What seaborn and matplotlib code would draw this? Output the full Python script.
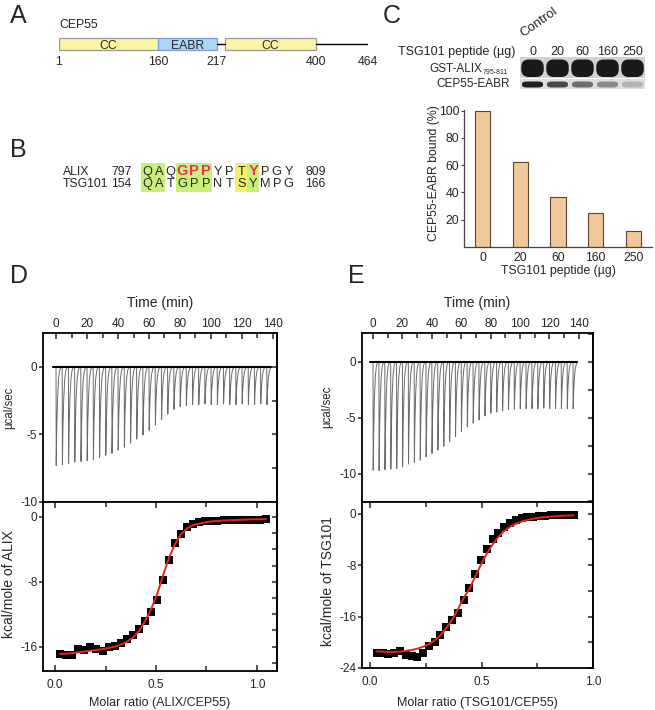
import numpy as np
import pandas as pd
import matplotlib
matplotlib.use("Agg")
import matplotlib.pyplot as plt
from matplotlib.patches import Rectangle, FancyBboxPatch
from matplotlib.ticker import MultipleLocator
import seaborn as sns

# ------------------------------------------------------------------ data
# A: CEP55 domain map (residues)
domain_names = ["CC", "EABR", "CC"]
domain_start = [1, 160, 232]
domain_end = [160, 217, 400]
cep55_length = 464
residue_ticks = [1, 160, 217, 400, 464]

# B: alignment
alix_seq = list("QAQGPPYPTYPGY")
tsg_seq = list("QATGPPNTSYMPG")
alix_first, alix_last = 797, 809
tsg_first, tsg_last = 154, 166
identical_cols = [0, 1, 3, 4, 5, 9]
similar_cols = [8]
alix_motif_cols = [3, 4, 5, 9]

# C: competition
peptide_lanes = ["0", "20", "60", "160", "250"]
bound_percent = [100, 62, 37, 25, 12]
gst_alix_band = [1.0, 1.0, 1.0, 1.0, 1.0]
cep55_band = [0.95, 0.78, 0.62, 0.50, 0.32]

# D / E: ITC raw data (injection times, peak heights in ucal/sec)
inj_time = [0, 4, 8, 12, 16, 20, 24, 28, 32, 36, 40, 44, 48, 52, 56, 60, 64, 68,
            72, 76, 80, 84, 88, 92, 96, 100, 104, 108, 112, 116, 120, 124, 128, 132, 136]
peak_D = [-7.3, -7.25, -7.15, -7.05, -7.0, -6.95, -6.85, -6.7, -6.55, -6.4, -6.15, -5.95,
          -5.65, -5.35, -5.05, -4.7, -4.3, -3.9, -3.5, -3.15, -2.95, -2.85, -2.8, -2.8,
          -2.75, -2.8, -2.8, -2.75, -2.8, -2.8, -2.75, -2.8, -2.8, -2.75, -2.8]
peak_E = [-9.7, -9.75, -9.65, -9.6, -9.55, -9.4, -9.15, -9.0, -8.8, -8.5, -8.2, -7.9,
          -7.55, -7.15, -6.7, -6.25, -5.8, -5.5, -5.2, -4.85, -4.6, -4.5, -4.4, -4.3,
          -4.25, -4.2, -4.2, -4.2, -4.2, -4.15, -4.2, -4.2, -4.2, -4.2, -4.2]

# D: integrated heats ALIX -> CEP55
ratio_D = [0.025, 0.055, 0.085, 0.115, 0.145, 0.175, 0.205, 0.235, 0.265, 0.295, 0.325,
           0.355, 0.385, 0.415, 0.445, 0.475, 0.505, 0.535, 0.565, 0.595, 0.625, 0.655,
           0.685, 0.715, 0.745, 0.775, 0.805, 0.835, 0.865, 0.895, 0.925, 0.955, 0.985,
           1.015, 1.045]
heat_D = [-16.9, -17.0, -17.0, -16.3, -16.4, -16.1, -16.3, -16.5, -16.1, -15.9, -15.6,
          -15.1, -14.6, -13.8, -12.8, -11.7, -10.2, -7.8, -5.3, -3.2, -2.1, -1.25, -0.85,
          -0.65, -0.55, -0.5, -0.45, -0.42, -0.4, -0.38, -0.36, -0.35, -0.33, -0.32, -0.3]
fit_D = [-16.9, -16.85, -16.8, -16.7, -16.6, -16.5, -16.4, -16.3, -16.15, -16.0, -15.75,
         -15.4, -14.9, -14.1, -12.9, -11.4, -9.6, -7.2, -5.0, -3.3, -2.1, -1.4, -1.0,
         -0.8, -0.65, -0.55, -0.48, -0.43, -0.4, -0.37, -0.34, -0.32, -0.3, -0.28, -0.26]

# E: integrated heats TSG101 -> CEP55
ratio_E = [0.030, 0.056, 0.082, 0.108, 0.134, 0.160, 0.186, 0.212, 0.238, 0.264, 0.290,
           0.316, 0.342, 0.368, 0.394, 0.420, 0.446, 0.472, 0.498, 0.524, 0.550, 0.576,
           0.602, 0.628, 0.654, 0.680, 0.706, 0.732, 0.758, 0.784, 0.810, 0.836, 0.862,
           0.888, 0.914]
heat_E = [-21.6, -21.6, -21.9, -21.7, -21.4, -22.0, -22.1, -22.3, -21.6, -20.6, -19.9,
          -18.9, -17.7, -16.6, -15.4, -13.5, -11.6, -9.4, -7.2, -5.5, -4.0, -2.95, -2.1,
          -1.5, -1.05, -0.75, -0.6, -0.5, -0.4, -0.35, -0.3, -0.25, -0.22, -0.2, -0.18]
fit_E = [-21.4, -21.45, -21.5, -21.5, -21.45, -21.35, -21.2, -21.0, -20.7, -20.3, -19.7,
         -18.9, -17.8, -16.5, -14.9, -13.1, -11.7, -9.8, -7.9, -6.2, -4.8, -3.6, -2.7,
         -2.05, -1.6, -1.25, -1.0, -0.8, -0.65, -0.55, -0.47, -0.4, -0.35, -0.31, -0.28]

# ------------------------------------------------------------------ style
sns.set_theme(style="ticks")
plt.rcParams["font.family"] = ["Liberation Sans", "DejaVu Sans"]
plt.rcParams["axes.unicode_minus"] = False
plt.rcParams["axes.linewidth"] = 1.0

W, H = 655, 710
fig = plt.figure(figsize=(W / 100, H / 100), dpi=100)
fig.patch.set_facecolor("white")


def px_axes(x0, y0, x1, y1):
    return fig.add_axes([x0 / W, 1 - y1 / H, (x1 - x0) / W, (y1 - y0) / H])


def letter(x, y, s):
    fig.text(x / W, 1 - y / H, s, fontsize=18, va="baseline", ha="left")


letter(10, 23, "A")
letter(10, 157, "B")
letter(383, 23, "C")
letter(10, 283, "D")
letter(348, 283, "E")

# ------------------------------------------------------------------ A
schem_res = [1, 160, 217, 400, 464]       # schematic (not to scale) drawing
schem_px = [59, 158, 217, 316, 368]
axA = px_axes(59, 0, 368, 90)
axA.set_xscale("function", functions=(lambda r: np.interp(r, schem_res, schem_px),
                                       lambda p: np.interp(p, schem_px, schem_res)))
axA.set_xlim(1, cep55_length)
axA.set_ylim(90, 0)
axA.axis("off")
dom_face = {"CC": "#fbf4a6", "EABR": "#a9d6f5"}
dom_edge = {"CC": "#9b9a86", "EABR": "#7f9be0"}
axA.plot([domain_end[1], domain_start[2]], [43.5, 43.5], color="black", lw=1.0)
axA.plot([domain_end[2], cep55_length], [43.5, 43.5], color="black", lw=1.0)
for name, s, e in zip(domain_names, domain_start, domain_end):
    axA.add_patch(Rectangle((s, 38), e - s, 12, facecolor=dom_face[name],
                            edgecolor=dom_edge[name], lw=0.9))
    mid = np.interp((np.interp(s, schem_res, schem_px) + np.interp(e, schem_res, schem_px)) / 2,
                    schem_px, schem_res)
    axA.text(mid, 49, name, ha="center", va="baseline", fontsize=8.8)
axA.text(1, 28, "CEP55", ha="left", va="baseline", fontsize=8.8)
for r in residue_ticks:
    axA.text(r, 65, str(r), ha="center", va="baseline", fontsize=8.8)

# ------------------------------------------------------------------ B
col0_px, col_step = 147, 11.8
axB = px_axes(0, 130, 330, 210)
axB.set_xlim(-col0_px / col_step, (330 - col0_px) / col_step)
axB.set_ylim((210 - 175) / 12, (130 - 175) / 12)
axB.axis("off")
for c in identical_cols:
    axB.add_patch(Rectangle((c - 0.5, -1.0), 1, 2.42, facecolor="#c8f078", edgecolor="none"))
for c in similar_cols:
    axB.add_patch(Rectangle((c - 0.5, -1.0), 1, 2.42, facecolor="#f5f064", edgecolor="none"))
for row, (name, seq, a, b) in enumerate([("ALIX", alix_seq, alix_first, alix_last),
                                          ("TSG101", tsg_seq, tsg_first, tsg_last)]):
    axB.text(-7.12, row, name, ha="left", va="baseline", fontsize=8.8)
    axB.text(-1.3, row, str(a), ha="right", va="baseline", fontsize=8.8)
    axB.text(13.4, row, str(b), ha="left", va="baseline", fontsize=8.8)
    for c, aa in enumerate(seq):
        if row == 0 and c in alix_motif_cols:
            axB.text(c, row, aa, ha="center", va="baseline", fontsize=10.5,
                     fontweight="bold", color="#e8344e")
        else:
            axB.text(c, row, aa, ha="center", va="baseline", fontsize=9.2)

# ------------------------------------------------------------------ C (gel)
lane0_px, lane_step = 532.5, 25
axG = px_axes(330, 0, 655, 95)
axG.set_xlim((330 - lane0_px) / lane_step, (655 - lane0_px) / lane_step)
axG.set_ylim(95, 0)
axG.axis("off")
n_l = len(peptide_lanes)
axG.add_patch(Rectangle((-0.5, 57), n_l, 21, facecolor="#d2d2d2", edgecolor="none"))
axG.add_patch(Rectangle((-0.5, 79), n_l, 10, facecolor="#dedede", edgecolor="none"))
for i, (g, c) in enumerate(zip(gst_alix_band, cep55_band)):
    axG.add_patch(FancyBboxPatch((i - 0.45, 59.5), 0.9, 17.5,
                                 boxstyle="round,pad=0,rounding_size=0.3", mutation_aspect=25,
                                 facecolor=str(1 - 0.9 * g), edgecolor="none"))
    axG.add_patch(FancyBboxPatch((i - 0.42, 81.5), 0.84, 6,
                                 boxstyle="round,pad=0,rounding_size=0.2", mutation_aspect=12,
                                 facecolor=str(1 - 0.92 * c), edgecolor="none"))
    axG.text(i, 55, peptide_lanes[i], ha="center", va="baseline", fontsize=9)
axG.text(-0.7, 55, "TSG101 peptide (µg)", ha="right", va="baseline", fontsize=9)
t_gst = axG.text(-2.02, 71.5, "GST-ALIX", ha="right", va="baseline", fontsize=8.5)
axG.annotate("795-811", xy=(1, 0), xycoords=t_gst, xytext=(0.5, 0.6),
             textcoords="offset points", ha="left", va="baseline", fontsize=5)
axG.text(-0.9, 87, "CEP55-EABR", ha="right", va="baseline", fontsize=8.5)
axG.text(-0.35, 37, "Control", rotation=35, rotation_mode="anchor",
         ha="left", va="baseline", fontsize=9.5)

# ------------------------------------------------------------------ C (bars)
axC = px_axes(464, 110, 652, 247)
dfC = pd.DataFrame({"lane": peptide_lanes, "bound": bound_percent})
sns.barplot(data=dfC, x="lane", y="bound", order=peptide_lanes, width=0.4,
            color="#f1c89a", edgecolor="#5c4330", linewidth=0.8, saturation=1, ax=axC)
axC.set_xlim(-0.5, n_l - 0.5)
axC.set_ylim(0, 100.5)
axC.set_yticks([20, 40, 60, 80, 100])
sns.despine(ax=axC)
for s in ["left", "bottom"]:
    axC.spines[s].set_color("#444444")
    axC.spines[s].set_linewidth(0.9)
axC.tick_params(axis="y", length=2.5, width=0.8, pad=1, labelsize=8.8, color="#444444")
axC.tick_params(axis="x", length=0, pad=3.6, labelsize=8.8)
axC.set_xlabel("TSG101 peptide (µg)", fontsize=8.8)
axC.xaxis.set_label_coords(0.5, -(274 - 247) / 137)
axC.xaxis.label.set_va("baseline")
axC.set_ylabel("CEP55-EABR bound (%)", fontsize=8.8)
axC.yaxis.set_label_coords(-0.125, 0.54)


# ------------------------------------------------------------------ ITC
spike_tau = [0.0, 0.12, 0.5, 1.0, 1.6, 2.3, 3.2]      # peak drawing template
spike_frac = [0.0, 1.0, 0.6, 0.32, 0.13, 0.04, 0.0]


def itc_trace(times, peaks):
    xs, ys = [times[0] - 2], [0.0]
    for t, p in zip(times, peaks):
        for tau, f in zip(spike_tau, spike_frac):
            xs.append(t + tau)
            ys.append(p * f)
    xs.append(times[-1] + 3)
    ys.append(0.0)
    return pd.DataFrame({"time": xs, "power": ys})


def frame(ax):
    for s in ax.spines.values():
        s.set_visible(True)
        s.set_linewidth(1.3)
        s.set_color("black")


def right_ticks(ax, step):
    sec = ax.secondary_yaxis("right")
    sec.yaxis.set_major_locator(MultipleLocator(step))
    sec.tick_params(axis="y", direction="in", length=3.5, width=1.1,
                    labelright=False, labelleft=False)
    sec.spines["right"].set_linewidth(1.3)


def itc_panel(ax_t, ax_b, peaks, ratio, heat, fit, tlim, plim, rlim, hlim,
              hminor, ylab_b, xlab_b, lab_x_t, lab_x_b, lab_y_b, xlab_y):
    # raw trace
    df = itc_trace(inj_time, peaks)
    sns.lineplot(data=df, x="time", y="power", sort=False, estimator=None,
                 color="#6a6a6a", lw=0.7, ax=ax_t)
    sns.lineplot(x=[inj_time[0] - 2, inj_time[-1] + 3], y=[0, 0], color="black",
                 lw=1.5, ax=ax_t)
    ax_t.set_xlim(*tlim)
    ax_t.set_ylim(*plim)
    frame(ax_t)
    ax_t.xaxis.set_ticks_position("top")
    ax_t.xaxis.set_major_locator(MultipleLocator(20))
    ax_t.xaxis.set_minor_locator(MultipleLocator(10))
    ax_t.tick_params(axis="x", which="both", direction="in", top=True, bottom=False,
                     labeltop=True, labelbottom=False, width=1.1, labelsize=8.5, pad=2)
    ax_t.tick_params(axis="x", which="major", length=4)
    ax_t.tick_params(axis="x", which="minor", length=3.5)
    ax_t.yaxis.set_major_locator(MultipleLocator(5))
    ax_t.tick_params(axis="y", which="major", direction="out", length=3, width=1.1,
                     labelsize=8.5, pad=1, left=True, right=False)
    right_ticks(ax_t, 2.5)
    ax_t.set_xlabel("Time (min)", fontsize=10)
    ax_t.xaxis.set_label_position("top")
    ax_t.xaxis.set_label_coords(0.5, 1.155)
    ax_t.xaxis.label.set_va("baseline")
    ax_t.set_ylabel("µcal/sec", fontsize=8.3)
    ax_t.yaxis.set_label_coords(lab_x_t, 0.56)

    # integrated heats
    sns.scatterplot(x=ratio, y=heat, marker="s", s=26, color="black",
                    edgecolor="black", linewidth=0, ax=ax_b, zorder=2)
    sns.lineplot(x=ratio, y=fit, color="#e8251c", lw=1.4, ax=ax_b, zorder=3)
    ax_b.set_xlim(*rlim)
    ax_b.set_ylim(*hlim)
    frame(ax_b)
    ax_b.xaxis.set_major_locator(MultipleLocator(0.5))
    ax_b.xaxis.set_minor_locator(MultipleLocator(0.25))
    ax_b.tick_params(axis="x", which="both", direction="in", top=True, bottom=True,
                     width=1.1, labelsize=8.5, pad=5.5)
    ax_b.tick_params(axis="x", which="major", length=4)
    ax_b.tick_params(axis="x", which="minor", length=3.5)
    ax_b.yaxis.set_major_locator(MultipleLocator(8))
    ax_b.tick_params(axis="y", which="major", direction="out", length=3, width=1.1,
                     labelsize=8.5, pad=1, left=True, right=False)
    right_ticks(ax_b, hminor)
    ax_b.set_xlabel(xlab_b, fontsize=9)
    ax_b.xaxis.set_label_coords(0.5, xlab_y)
    ax_b.xaxis.label.set_va("baseline")
    ax_b.set_ylabel(ylab_b, fontsize=10)
    ax_b.yaxis.set_label_coords(lab_x_b, lab_y_b)


axDt = px_axes(43, 333, 277, 502)
axDb = px_axes(43, 502, 277, 671)
itc_panel(axDt, axDb, peak_D, ratio_D, heat_D, fit_D,
          tlim=(-8.4, 142.6), plim=(-10, 2.5), rlim=(-0.06, 1.10), hlim=(-19.0, 1.85),
          hminor=2, ylab_b="kcal/mole of ALIX", xlab_b="Molar ratio (ALIX/CEP55)",
          lab_x_t=-0.1175, lab_x_b=-0.115, lab_y_b=0.515, xlab_y=-(706 - 671) / 169)

axEt = px_axes(362, 333, 593, 501.5)
axEb = px_axes(362, 501.5, 593, 668)
itc_panel(axEt, axEb, peak_E, ratio_E, heat_E, fit_E,
          tlim=(-7.5, 149.6), plim=(-12.5, 2.57), rlim=(-0.036, 1.0), hlim=(-24, 1.87),
          hminor=4, ylab_b="kcal/mole of TSG101", xlab_b="Molar ratio (TSG101/CEP55)",
          lab_x_t=-0.125, lab_x_b=-0.117, lab_y_b=0.524, xlab_y=-(706 - 668) / 166.5)

fig.savefig("out.png", dpi=100, facecolor="white")
